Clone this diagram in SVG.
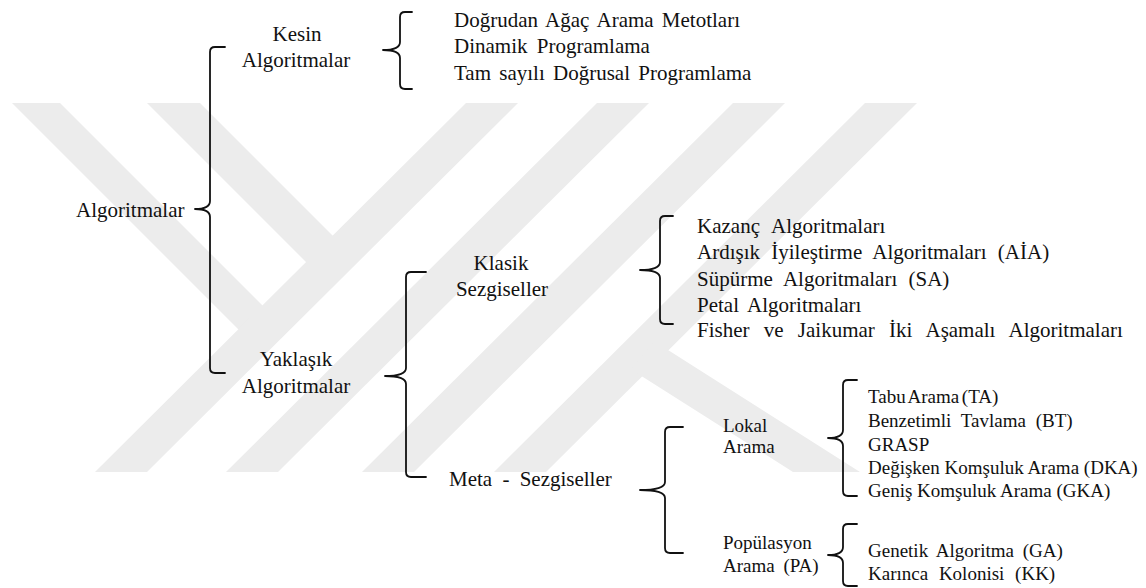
<svg xmlns="http://www.w3.org/2000/svg" width="1146" height="588" viewBox="0 0 1146 588">
  <style>
    .t { font-family: "Liberation Serif", "Times New Roman", serif; font-size: 21px; fill: #111; }
    .s { font-family: "Liberation Serif", "Times New Roman", serif; font-size: 19px; fill: #111; }
    .c { text-anchor: middle; }
    .brace { fill: none; stroke: #111; stroke-width: 1.8; stroke-linecap: round; stroke-linejoin: round; }
    .wm { fill: #ececec; stroke: none; }
  </style>

  <rect width="1146" height="588" fill="#ffffff"/>

  <!-- background mark: light grey diagonal bands -->
  <g id="watermark">
    <polygon class="wm" points="12,103 60,103 268,311 244,335"/>
    <polygon class="wm" points="147,103 200,103 338,241 311.5,267.5"/>
    <polygon class="wm" points="466,103 518,103 147,472 95,472"/>
    <polygon class="wm" points="597,103 649,103 278,472 226,472"/>
    <polygon class="wm" points="733,103 785,103 414,472 362,472"/>
    <polygon class="wm" points="865,103 917,103 546,472 494,472"/>
    <polygon class="wm" points="655,340 668,350 860,472 793,472 643,377 630,370"/>
  </g>

  <!-- curly braces joining each parent to its children -->
  <g id="connectors">
    <path class="brace" d="M225,47 L215,47 Q210,47 210,52 L210,201 Q210,209 195,209 Q210,209 210,217 L210,368 Q210,373 215,373 L225,373"/>
    <path class="brace" d="M412,12 L405,12 Q400,12 400,17 L400,42 Q400,50 383,50 Q400,50 400,58 L400,84 Q400,89 405,89 L412,89"/>
    <path class="brace" d="M426,272 L411,272 Q406,272 406,277 L406,368 Q406,376 385,376 Q406,376 406,384 L406,472 Q406,477 411,477 L426,477"/>
    <path class="brace" d="M673,216 L665,216 Q660,216 660,221 L660,262 Q660,270 640,270 Q660,270 660,278 L660,319 Q660,324 665,324 L673,324"/>
    <path class="brace" d="M683,427 L670,427 Q665,427 665,432 L665,482 Q665,490 640,490 Q665,490 665,498 L665,548 Q665,553 670,553 L683,553"/>
    <path class="brace" d="M857,380 L848,380 Q843,380 843,385 L843,430 Q843,438 828,438 Q843,438 843,446 L843,491 Q843,496 848,496 L857,496"/>
    <path class="brace" d="M857,524 L848,524 Q843,524 843,529 L843,547 Q843,555 828,555 Q843,555 843,563 L843,581 Q843,586 848,586 L857,586"/>
  </g>

  <g id="algoritmalar">
    <text class="t" x="76" y="217">Algoritmalar</text>
  </g>

  <g id="kesin">
    <text class="t c" x="297" y="41">Kesin</text>
    <text class="t c" x="296" y="67">Algoritmalar</text>
  </g>
  <g id="dogrudan-agac">
    <text class="t" x="454" y="27" word-spacing="3">Doğrudan Ağaç Arama Metotları</text>
  </g>
  <g id="dinamik">
    <text class="t" x="454" y="53" word-spacing="4">Dinamik Programlama</text>
  </g>
  <g id="tam-sayili">
    <text class="t" x="454" y="80" word-spacing="3">Tam sayılı Doğrusal Programlama</text>
  </g>

  <g id="yaklasik">
    <text class="t c" x="296" y="366">Yaklaşık</text>
    <text class="t c" x="296" y="393">Algoritmalar</text>
  </g>

  <g id="klasik">
    <text class="t c" x="501" y="270">Klasik</text>
    <text class="t c" x="502" y="296">Sezgiseller</text>
  </g>
  <g id="kazanc">
    <text class="t" x="697" y="233" word-spacing="7">Kazanç Algoritmaları</text>
  </g>
  <g id="ardisik">
    <text class="t" x="697" y="259" word-spacing="6">Ardışık İyileştirme Algoritmaları (AİA)</text>
  </g>
  <g id="supurme">
    <text class="t" x="697" y="286" word-spacing="6">Süpürme Algoritmaları (SA)</text>
  </g>
  <g id="petal">
    <text class="t" x="697" y="312" word-spacing="4">Petal Algoritmaları</text>
  </g>
  <g id="fisher">
    <text class="t" x="697" y="337" word-spacing="9">Fisher ve Jaikumar İki Aşamalı Algoritmaları</text>
  </g>

  <g id="meta">
    <text class="t" x="449" y="486" word-spacing="5">Meta - Sezgiseller</text>
  </g>

  <g id="lokal">
    <text class="s" x="723" y="432">Lokal</text>
    <text class="s" x="723" y="453">Arama</text>
  </g>
  <g id="tabu">
    <text class="s" x="868" y="403" word-spacing="-2">Tabu Arama (TA)</text>
  </g>
  <g id="benzetimli">
    <text class="s" x="868" y="427" word-spacing="5">Benzetimli Tavlama (BT)</text>
  </g>
  <g id="grasp">
    <text class="s" x="868" y="451">GRASP</text>
  </g>
  <g id="degisken">
    <text class="s" x="868" y="474">Değişken Komşuluk Arama (DKA)</text>
  </g>
  <g id="genis">
    <text class="s" x="868" y="497">Geniş Komşuluk Arama (GKA)</text>
  </g>

  <g id="populasyon">
    <text class="s" x="723" y="549">Popülasyon</text>
    <text class="s" x="723" y="572" word-spacing="4">Arama (PA)</text>
  </g>
  <g id="genetik">
    <text class="s" x="868" y="557" word-spacing="4">Genetik Algoritma (GA)</text>
  </g>
  <g id="karinca">
    <text class="s" x="868" y="580" word-spacing="6">Karınca Kolonisi (KK)</text>
  </g>
</svg>
